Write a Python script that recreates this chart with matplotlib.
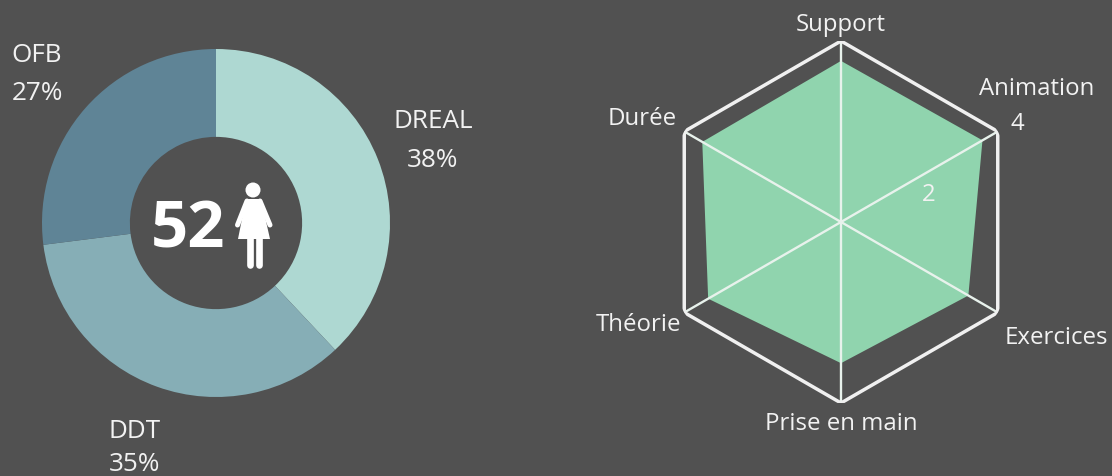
import numpy as np
import matplotlib
matplotlib.use("Agg")
import matplotlib.pyplot as plt
from matplotlib.patches import Circle, Polygon

plt.rcParams['font.family'] = ['Open Sans', 'DejaVu Sans']

# donut data
groups = ['DREAL', 'DDT', 'OFB']
shares = [38, 35, 27]
donut_colors = ['#aed8d2', '#86aeb6', '#5f8496']
total = '52'

# radar data
axes_names = ['Support', 'Animation', 'Exercices', 'Prise en main', 'Théorie', 'Durée']
scores = [3.56, 3.61, 3.25, 3.12, 3.39, 3.54]
radar_max = 4
tick_vals = [2, 4]

bg = '#515151'
txt = '#f2f2f2'
W, H = 1112, 477
fig = plt.figure(figsize=(W/100, H/100), dpi=100, facecolor=bg)

# donut
ax1 = fig.add_axes([42/W, 1-398/H, 348/W, 348/H])
ax1.pie(shares, colors=donut_colors, startangle=90, counterclock=False, radius=1,
        wedgeprops=dict(width=0.505, linewidth=0))
ax1.set_xlim(-1, 1)
ax1.set_ylim(-1, 1)

# pixel axes for the texts and the icon, above everything else
top = fig.add_axes([0, 0, 1, 1], facecolor='none', zorder=5)
top.set_xlim(0, W)
top.set_ylim(H, 0)
top.axis('off')

donut_pos = [(433, 122, 161), (135, 432, 465), (37, 55, 93)]
for name, share, (x, y, y2) in zip(groups, shares, donut_pos):
    top.text(x, y, name, ha='center', va='center', color=txt, fontsize=18.8)
    top.text(x, y2, f'{share}%', ha='center', va='center', color=txt, fontsize=18.8)
top.text(188, 231, total, ha='center', va='center', color='white', fontsize=47, fontweight='bold')

# little woman icon
top.add_patch(Circle((253, 191), 7.5, color='white', lw=0))
top.add_patch(Polygon([(246, 200), (261, 200), (270, 240), (238, 240)], color='white', lw=0))
top.plot([247, 237.5], [202, 226], color='white', lw=3.6, solid_capstyle='round')
top.plot([260, 270], [202, 226], color='white', lw=3.6, solid_capstyle='round')
top.plot([249.5, 249.5], [238, 265.5], color='white', lw=4.8, solid_capstyle='round')
top.plot([258.5, 258.5], [238, 265.5], color='white', lw=4.8, solid_capstyle='round')

# radar
cx, cy, R = 841, 223, 181
ax2 = fig.add_axes([(cx-R)/W, 1-(cy+R)/H, 2*R/W, 2*R/H], projection='polar', facecolor='none')
ax2.set_theta_zero_location('N')
ax2.set_theta_direction(-1)
ax2.axis('off')
theta = np.linspace(0, 2*np.pi, len(axes_names), endpoint=False)
ax2.fill(np.append(theta, theta[0]), scores + scores[:1], color='#90d4ae', lw=0, zorder=1)
for t in theta:
    ax2.plot([t, t], [0, radar_max], color='#e8f2ec', lw=1.7, zorder=2)
ax2.plot(np.append(theta, theta[0]), [radar_max]*(len(theta)+1), color='#f0f0f0', lw=2.5, zorder=3)
ax2.set_ylim(0, radar_max)

label_pos = [(841, 25), (1037, 89), (1056, 338), (841, 424), (639, 325), (642, 119)]
for name, (x, y) in zip(axes_names, label_pos):
    top.text(x, y, name, ha='center', va='center', color=txt, fontsize=17.3)
top.text(929, 195, str(tick_vals[0]), ha='center', va='center', color=txt, fontsize=17.3)
top.text(1017, 124, str(tick_vals[1]), ha='center', va='center', color=txt, fontsize=17.3)

fig.savefig('out.png', dpi=100, facecolor=bg)
